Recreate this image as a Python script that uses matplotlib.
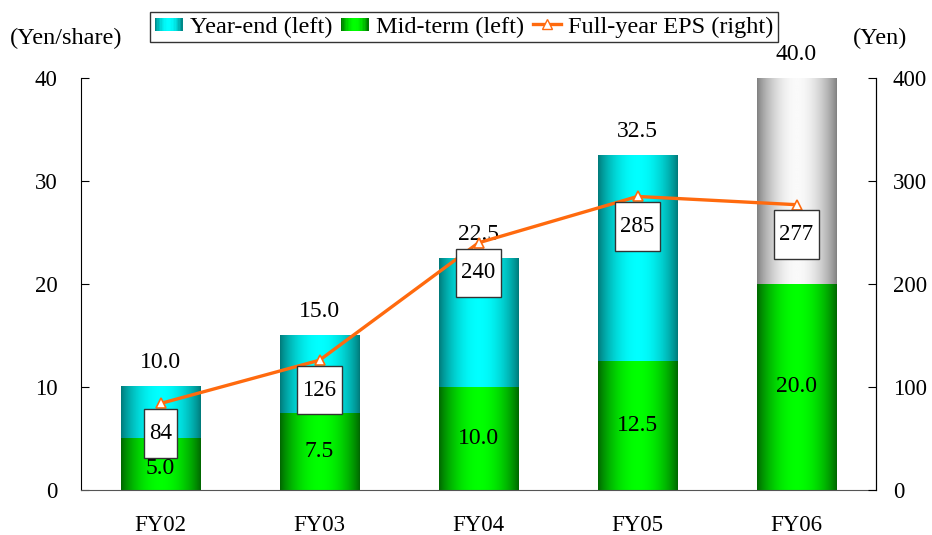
import numpy as np
import matplotlib
matplotlib.use('Agg')
import matplotlib.pyplot as plt
from matplotlib.colors import LinearSegmentedColormap
from matplotlib.patches import Rectangle
from matplotlib.lines import Line2D
from matplotlib.path import Path
from matplotlib.legend_handler import HandlerBase

plt.rcParams['font.family'] = ['Liberation Serif', 'DejaVu Serif']

# data
years = ['FY02', 'FY03', 'FY04', 'FY05', 'FY06']
mid_term = [5.0, 7.5, 10.0, 12.5, 20.0]
year_end = [5.0, 7.5, 12.5, 20.0, 20.0]
annual_total = [10.0, 15.0, 22.5, 32.5, 40.0]
eps = [84, 126, 240, 285, 277]

# gradient colour maps (dark edges, bright centre)
cyan_cm = LinearSegmentedColormap.from_list('cy', ['#007878', '#00FFFF'])
green_cm = LinearSegmentedColormap.from_list('gr', ['#006400', '#00FF00'])
gray_cm = LinearSegmentedColormap.from_list('gy', ['#7F7F7F', '#FAFAFA'])

t = np.linspace(0, 1, 200)
grad = np.sin(np.pi * t) ** 0.8
grad = grad[np.newaxis, :]


def tall_box(x0, y0, width, height, mutation_size):
    # rectangle with small side padding and larger top/bottom padding
    px = 0.22 * mutation_size
    py = 0.60 * mutation_size
    x0, y0 = x0 - px, y0 - py
    x1, y1 = x0 + width + 2 * px, y0 + height + 2 * py
    return Path([(x0, y0), (x1, y0), (x1, y1), (x0, y1), (x0, y0)],
                [Path.MOVETO, Path.LINETO, Path.LINETO, Path.LINETO, Path.CLOSEPOLY])


fig = plt.figure(figsize=(9.32, 5.35), dpi=100)
ax = fig.add_axes([81 / 932, 45 / 535, 795 / 932, 412 / 535])
x = np.arange(len(years))
w = 0.5

for i in x:
    ax.imshow(grad, extent=[i - w / 2, i + w / 2, 0, mid_term[i]], aspect='auto',
              cmap=green_cm, vmin=0, vmax=1, zorder=1)
    top_cm = gray_cm if years[i] == 'FY06' else cyan_cm
    ax.imshow(grad, extent=[i - w / 2, i + w / 2, mid_term[i], annual_total[i]],
              aspect='auto', cmap=top_cm, vmin=0, vmax=1, zorder=1)
    # labels
    ax.annotate(f'{annual_total[i]:.1f}', (i, annual_total[i]), xytext=(0, 24),
                textcoords='offset pixels', ha='center', va='center', fontsize=17)
    ax.text(i, mid_term[i] / 2 - (0.4 if i == 0 else 0), f'{mid_term[i]:.1f}',
            ha='center', va='center', fontsize=17, zorder=2)

ax.set_xlim(-0.5, len(years) - 0.5)
ax.set_ylim(0, 40)
ax.set_yticks([0, 10, 20, 30, 40])
ax.set_xticks(x)
ax.set_xticklabels(years)
ax.tick_params(axis='x', length=0, labelsize=16.5, pad=18)
ax.tick_params(axis='y', direction='in', length=6, labelsize=16.5, pad=17)
ax.spines['top'].set_visible(False)
ax.spines['bottom'].set_color('#555555')

ax2 = ax.twinx()
ax2.set_ylim(0, 400)
ax2.set_yticks([0, 100, 200, 300, 400])
ax2.tick_params(axis='y', direction='in', length=6, labelsize=16.5, pad=12)
ax2.spines['top'].set_visible(False)
ax2.spines['bottom'].set_visible(False)
ax2.spines['left'].set_visible(False)
ax2.plot(x, eps, color='#FF6A0E', lw=2.4, marker='^', markersize=7,
         markerfacecolor='white', markeredgecolor='#FF6A0E', markeredgewidth=1.2, zorder=3)
for i in x:
    ax2.annotate(f'{eps[i]}', (i, eps[i]), xytext=(0, -30), textcoords='offset pixels',
                 ha='center', va='center', fontsize=16.5, zorder=5,
                 bbox=dict(boxstyle=tall_box, fc='white', ec='#333333', lw=1))

fig.text(10 / 932, 1 - 38 / 535, '(Yen/share)', fontsize=17.5, va='center', ha='left')
fig.text(907 / 932, 1 - 38 / 535, '(Yen)', fontsize=17.5, va='center', ha='right')


class GradHandler(HandlerBase):
    def __init__(self, cmap):
        super().__init__()
        self.cmap = cmap

    def create_artists(self, legend, orig_handle, xdescent, ydescent, width, height,
                       fontsize, trans):
        arts = []
        n = 20
        h = height * 0.75
        y0 = -ydescent + (height - h) / 2
        for k in range(n):
            v = np.sin(np.pi * (k + 0.5) / n) ** 0.8
            r = Rectangle((-xdescent + width * k / n, y0), width / n + 0.3, h,
                          facecolor=self.cmap(v), edgecolor='none', transform=trans)
            arts.append(r)
        return arts


h1 = Rectangle((0, 0), 1, 1)
h2 = Rectangle((0, 0), 1, 1)
h3 = Line2D([], [], color='#FF6A0E', lw=2.4, marker='^', markersize=7,
            markerfacecolor='white', markeredgecolor='#FF6A0E')
leg = fig.legend([h1, h2, h3], ['Year-end (left)', 'Mid-term (left)', 'Full-year EPS (right)'],
                 loc='center', bbox_to_anchor=(464 / 932, 1 - 27 / 535), ncol=3,
                 fontsize=17.5, frameon=True, fancybox=False, edgecolor='black',
                 handlelength=1.15, handletextpad=0.3, columnspacing=0.35,
                 borderpad=0.18, handler_map={h1: GradHandler(cyan_cm), h2: GradHandler(green_cm)})
leg.get_frame().set_linewidth(1.0)

fig.savefig('out.png', dpi=100)
